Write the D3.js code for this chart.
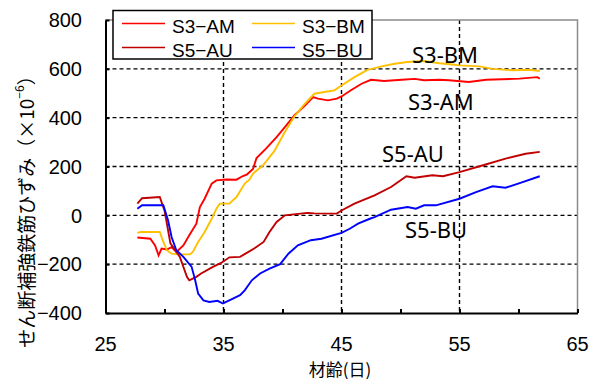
<!DOCTYPE html>
<html>
<head>
<meta charset="utf-8">
<script src="https://cdn.jsdelivr.net/npm/d3@7"></script>
<style>
  body { margin: 0; background: #fff; }
  svg { display: block; }
</style>
</head>
<body>
<svg width="590" height="382"></svg>
<script>
// values (day, strain x10^-6)
const s3amDays = [27.7, 28.8, 29.2, 29.5, 29.75, 30.2, 30.6, 31.0, 31.6, 32.1, 32.7, 33.0, 33.4, 34.0, 34.4, 35.25, 36.1, 36.6, 37.0, 37.5, 37.8, 38.6, 39.5, 40.2, 41.0, 41.9, 42.6, 43.0, 43.85, 44.6, 45.0, 45.8, 46.7, 47.5, 48.6, 50.1, 51.2, 52.0, 53.3, 54.1, 55.8, 57.25, 60.1, 61.6, 61.8];
const s3amVals = [-91, -96, -123, -164, -136, -140, -130, -150, -123, -82, -34, 34, 68, 130, 143, 147, 146, 160, 168, 190, 235, 273, 320, 361, 409, 450, 484, 478, 471, 478, 487, 512, 539, 555, 550, 555, 559, 553, 555, 553, 546, 555, 560, 566, 560];

const s3bmDays = [27.7, 28.0, 29.6, 29.9, 30.2, 30.6, 31.3, 32.15, 32.4, 32.85, 33.4, 34.0, 34.4, 34.7, 35.5, 36.1, 36.8, 37.2, 37.5, 38.35, 39.35, 39.5, 40.2, 41.0, 41.9, 42.7, 43.55, 44.4, 45.0, 46.1, 47.2, 48.4, 49.5, 50.6, 52.0, 53.3, 54.4, 55.0, 56.7, 57.8, 59.5, 60.9, 61.8];
const s3bmVals = [-72, -68, -68, -109, -143, -157, -160, -160, -150, -109, -68, -14, 27, 48, 48, 75, 130, 146, 171, 205, 266, 280, 341, 405, 457, 498, 505, 512, 532, 566, 596, 610, 621, 628, 632, 623, 618, 614, 610, 600, 594, 596, 591];

const s5auDays = [27.7, 28.1, 29.6, 30.0, 30.5, 31.3, 31.9, 32.1, 32.7, 33.1, 34.1, 34.8, 35.5, 36.4, 36.9, 37.6, 38.4, 38.9, 39.5, 40.2, 42.1, 42.7, 44.6, 45.0, 46.1, 47.8, 49.2, 50.5, 51.2, 52.7, 53.6, 55.0, 57.0, 58.9, 60.6, 61.8];
const s5auVals = [48, 70, 75, 20, -115, -170, -252, -266, -252, -238, -211, -195, -172, -170, -156, -136, -109, -68, -27, 0, 10, 8, 7, 20, 48, 82, 116, 160, 154, 164, 160, 177, 205, 232, 252, 260];

const s5buDays = [27.7, 28.1, 29.9, 30.3, 30.6, 31.0, 31.6, 32.3, 32.6, 32.85, 33.3, 33.8, 34.5, 34.95, 35.8, 36.4, 36.8, 37.4, 38.1, 38.9, 39.8, 40.5, 41.3, 42.4, 43.3, 45.0, 45.7, 46.4, 47.4, 47.8, 49.2, 50.6, 51.3, 52.0, 53.0, 55.0, 56.4, 57.8, 58.9, 60.1, 61.8];
const s5buVals = [27, 41, 41, -20, -89, -143, -170, -211, -266, -320, -348, -355, -350, -361, -341, -327, -307, -266, -238, -218, -200, -157, -123, -102, -96, -72, -55, -34, -14, -7, 23, 34, 27, 41, 41, 68, 95, 119, 113, 132, 160];

const seriesNames = ["S3-AM", "S3-BM", "S5-AU", "S5-BU"];
const seriesColors = ["#ff0000", "#ffc000", "#c00000", "#0000ff"];
const xTicks = [25, 35, 45, 55, 65];
const xMinorTicks = [30, 40, 50, 60];
const yTicks = [-400, -200, 0, 200, 400, 600, 800];

const series = [
  { name: "S3-AM", days: s3amDays, vals: s3amVals, color: seriesColors[0], lx: 408, ly: 110 },
  { name: "S3-BM", days: s3bmDays, vals: s3bmVals, color: seriesColors[1], lx: 412, ly: 63 },
  { name: "S5-AU", days: s5auDays, vals: s5auVals, color: seriesColors[2], lx: 382, ly: 162 },
  { name: "S5-BU", days: s5buDays, vals: s5buVals, color: seriesColors[3], lx: 405, ly: 238 }
];

const svg = d3.select("svg");
const plotL = 105.5, plotR = 577.5, plotT = 20, plotB = 313;

const x = d3.scaleLinear().domain([25, 65]).range([plotL, plotR]);
const y = d3.scaleLinear().domain([-400, 800]).range([plotB, plotT]);

const font = "'Liberation Sans', Arial, sans-serif";

// dashed grid
svg.append("g").selectAll("line")
  .data(yTicks.filter(d => d > -400 && d < 800))
  .enter().append("line")
  .attr("x1", plotL).attr("x2", plotR)
  .attr("y1", d => y(d)).attr("y2", d => y(d))
  .attr("stroke", "#000").attr("stroke-width", 1.4)
  .attr("stroke-dasharray", "4,3");

svg.append("g").selectAll("line")
  .data(xTicks.filter(d => d > 25 && d < 65))
  .enter().append("line")
  .attr("x1", d => x(d)).attr("x2", d => x(d))
  .attr("y1", plotT).attr("y2", plotB)
  .attr("stroke", "#000").attr("stroke-width", 1.4)
  .attr("stroke-dasharray", "4,3");

// gray frame top/right
svg.append("path")
  .attr("d", `M${plotL},${plotT}H${plotR}V${plotB}`)
  .attr("fill", "none").attr("stroke", "#8c8c8c").attr("stroke-width", 1.5);

// lines
const line = d3.line().x(d => x(d[0])).y(d => y(d[1]));
series.forEach(s => {
  svg.append("path")
    .datum(d3.zip(s.days, s.vals))
    .attr("d", line)
    .attr("fill", "none")
    .attr("stroke", s.color)
    .attr("stroke-width", 1.9);
});

// axes
const xAxis = d3.axisBottom(x).tickValues(xTicks.concat(xMinorTicks))
  .tickSizeInner(-4).tickSizeOuter(0).tickFormat("");
svg.append("g").attr("transform", `translate(0,${plotB})`).call(xAxis)
  .call(g => g.selectAll("path,line").attr("stroke", "#000").attr("stroke-width", 2));

const yAxis = d3.axisLeft(y).tickValues(yTicks)
  .tickSizeInner(-4).tickSizeOuter(0).tickFormat("");
svg.append("g").attr("transform", `translate(${plotL},0)`).call(yAxis)
  .call(g => g.selectAll("path,line").attr("stroke", "#000").attr("stroke-width", 2));

// tick labels
svg.append("g").selectAll("text")
  .data(xTicks).enter().append("text")
  .attr("x", d => x(d)).attr("y", 351)
  .attr("text-anchor", "middle")
  .attr("font-family", font).attr("font-size", 20)
  .text(d => d);

svg.append("g").selectAll("text")
  .data(yTicks).enter().append("text")
  .attr("x", 82).attr("y", d => y(d))
  .attr("dy", "0.36em")
  .attr("text-anchor", "end")
  .attr("font-family", font).attr("font-size", 20)
  .text(d => d < 0 ? "\u2212" + Math.abs(d) : d);

// axis titles
svg.append("text")
  .attr("x", 340).attr("y", 376)
  .attr("text-anchor", "middle")
  .attr("font-family", "'Noto Sans CJK JP', sans-serif").attr("font-size", 17)
  .text("材齢(日)");

const yt = svg.append("text")
  .attr("transform", "translate(25,207) rotate(-90)")
  .attr("text-anchor", "middle")
  .attr("dominant-baseline", "central")
  .attr("font-family", "'Noto Sans CJK JP', sans-serif").attr("font-size", 19);
yt.append("tspan").text("せん断補強鉄筋ひずみ（×10");
yt.append("tspan").attr("font-size", 12).attr("dy", "-0.6em").text("−6");
yt.append("tspan").attr("dy", "0.4em").text("）");

// labels beside lines
series.forEach(s => {
  svg.append("text")
    .attr("x", s.lx).attr("y", s.ly)
    .attr("font-family", "'Noto Sans', 'Open Sans', sans-serif")
    .attr("font-size", 22)
    .text(s.name);
});

// legend
const legend = svg.append("g");
legend.append("rect")
  .attr("x", 113).attr("y", 10.5).attr("width", 259).attr("height", 48.5)
  .attr("fill", "#fff").attr("stroke", "#000").attr("stroke-width", 1.5);

const legendOrder = [0, 1, 2, 3];
legendOrder.forEach((i, k) => {
  const cx = k % 2 === 0 ? 122 : 252;
  const cy = k < 2 ? 23.5 : 47.5;
  legend.append("line")
    .attr("x1", cx).attr("x2", cx + 43)
    .attr("y1", cy).attr("y2", cy)
    .attr("stroke", seriesColors[i]).attr("stroke-width", 1.5);
  legend.append("text")
    .attr("x", cx + 50).attr("y", cy + 9.5)
    .attr("font-family", font).attr("font-size", 19)
    .text(seriesNames[i].replace("-", "\u2212"));
});
</script>
</body>
</html>
